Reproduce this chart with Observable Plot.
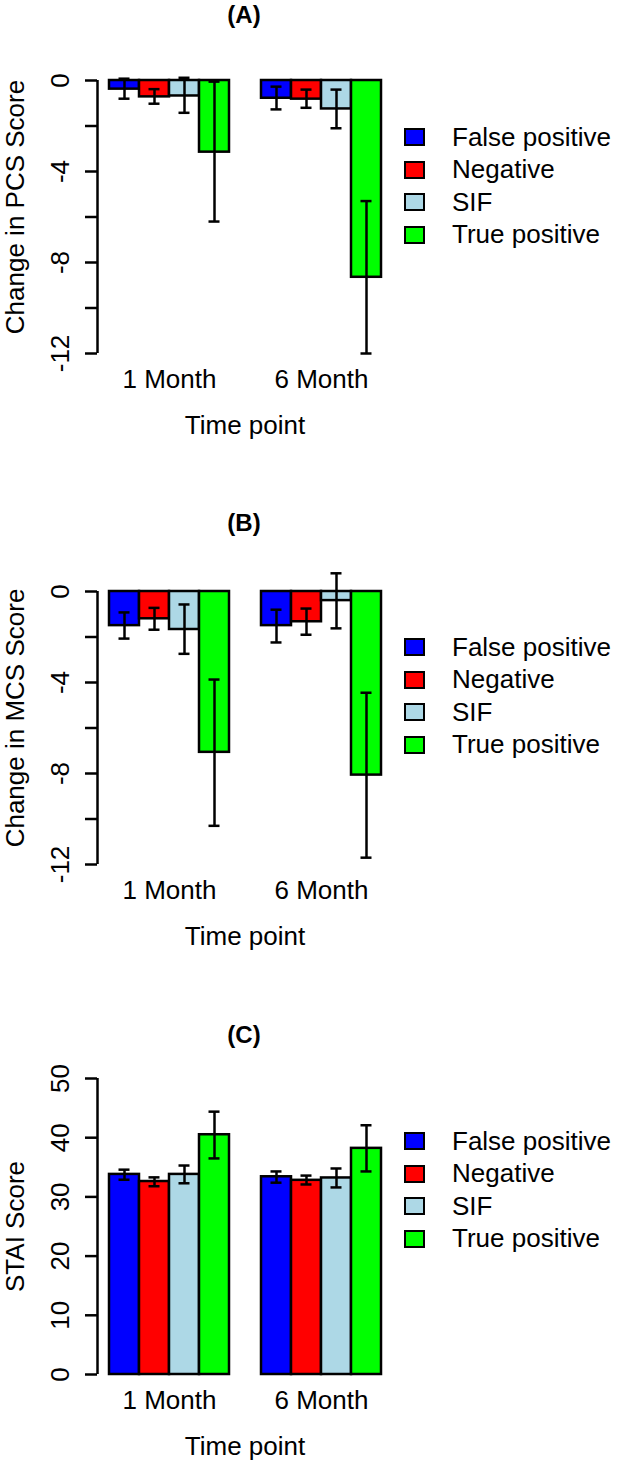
<!DOCTYPE html>
<html><head><meta charset="utf-8">
<script src="https://cdn.jsdelivr.net/npm/d3@7"></script>
<script src="https://cdn.jsdelivr.net/npm/@observablehq/plot@0.6"></script>
<style>
body{margin:0;background:#fff;font-family:"Liberation Sans",Arial,Helvetica,sans-serif;}
#root{position:relative;width:620px;height:1471px;overflow:hidden;background:#fff;}
.abs{position:absolute;}
.title{font-weight:bold;font-size:24px;text-align:center;width:200px;line-height:1;}
.leg-row{display:flex;align-items:center;height:32.5px;font-size:26px;color:#000;}
.sw{width:17px;height:14px;border:2px solid #000;margin-right:27px;flex:none;}
</style></head><body><div id="root"></div>
<script>
// ---- data ----
const categories = ["False positive", "Negative", "SIF", "True positive"];
const categoryColors = ["#0000ff", "#ff0000", "#add8e6", "#00ff00"];
const timePoints = ["1 Month", "6 Month"];
const xAxisLabel = "Time point";

// Panel A: Change in PCS Score (mean, lower, upper error bar) per time point
const pcsMean1 = [-0.38, -0.72, -0.68, -3.15];
const pcsLow1  = [-0.80, -1.02, -1.42, -6.20];
const pcsHigh1 = [0.08, -0.38, 0.12, -0.05];
const pcsMean6 = [-0.78, -0.82, -1.25, -8.65];
const pcsLow6  = [-1.27, -1.20, -2.10, -12.0];
const pcsHigh6 = [-0.27, -0.40, -0.40, -5.30];

// Panel B: Change in MCS Score
const mcsMean1 = [-1.50, -1.20, -1.67, -7.07];
const mcsLow1  = [-2.07, -1.68, -2.74, -10.3];
const mcsHigh1 = [-0.92, -0.72, -0.57, -3.87];
const mcsMean6 = [-1.50, -1.33, -0.40, -8.07];
const mcsLow6  = [-2.24, -1.90, -1.62, -11.7];
const mcsHigh6 = [-0.80, -0.75, 0.80, -4.45];

// Panel C: STAI Score
const staiMean1 = [33.8, 32.6, 33.8, 40.5];
const staiLow1  = [32.9, 31.8, 32.3, 36.5];
const staiHigh1 = [34.6, 33.3, 35.3, 44.4];
const staiMean6 = [33.4, 32.8, 33.2, 38.2];
const staiLow6  = [32.4, 32.1, 31.6, 34.3];
const staiHigh6 = [34.3, 33.6, 34.8, 42.1];

const changeTicks = [-12, -10, -8, -6, -4, -2, 0];
const changeTickLabels = [-12, -8, -4, 0];
const staiTicks = [0, 10, 20, 30, 40, 50];
const staiTickLabels = [0, 10, 20, 30, 40, 50];

function rows(means, lows, highs) {
  const out = [];
  timePoints.forEach((t, ti) => categories.forEach((c, ci) => {
    out.push({time: t, cat: c, mean: means[ti][ci], lo: lows[ti][ci], hi: highs[ti][ci]});
  }));
  return out;
}

const panels = [
  {title: "(A)", ylabel: "Change in PCS Score", data: rows([pcsMean1, pcsMean6], [pcsLow1, pcsLow6], [pcsHigh1, pcsHigh6]),
   ticks: changeTicks, tickLabels: changeTickLabels,
   top: 0, height: 470, marginTop: 80, plotH: 273, titleY: 15, legendY: 137, ylabelDy: -10},
  {title: "(B)", ylabel: "Change in MCS Score", data: rows([mcsMean1, mcsMean6], [mcsLow1, mcsLow6], [mcsHigh1, mcsHigh6]),
   ticks: changeTicks, tickLabels: changeTickLabels,
   top: 490, height: 480, marginTop: 101, plotH: 273, titleY: 523, legendY: 647, ylabelDy: -10},
  {title: "(C)", ylabel: "STAI Score", data: rows([staiMean1, staiMean6], [staiLow1, staiLow6], [staiHigh1, staiHigh6]),
   ticks: staiTicks, tickLabels: staiTickLabels,
   top: 980, height: 491, marginTop: 98, plotH: 296, titleY: 1035, legendY: 1141, ylabelDy: 0}
];

const root = document.getElementById("root");
const W = 620, axisX = 97, plotRight = 392, FONT = 26, LW = 2.5;

for (const p of panels) {
  const yDomain = d3.extent(p.ticks);
  const marginBottom = p.height - p.marginTop - p.plotH;
  const common = {
    width: W, height: p.height, marginTop: p.marginTop, marginBottom,
    marginLeft: axisX, marginRight: W - plotRight,
    style: {fontFamily: '"Liberation Sans", Arial, sans-serif', fontSize: FONT + "px", color: "#000", background: "transparent", overflow: "visible"}
  };

  // Bars and error bars, grouped by time point (facets)
  const bars = Plot.plot({
    ...common,
    fx: {domain: timePoints, paddingInner: 0.2, paddingOuter: 0.0653, axis: null, label: null},
    x: {domain: categories, padding: 0, axis: null},
    y: {domain: yDomain, axis: null},
    color: {domain: categories, range: categoryColors},
    marks: [
      Plot.barY(p.data, {fx: "time", x: "cat", y: "mean", fill: "cat", stroke: "#000", strokeWidth: LW}),
      Plot.ruleX(p.data, {fx: "time", x: "cat", y1: "lo", y2: "hi", stroke: "#000", strokeWidth: LW}),
      Plot.tickY(p.data, {fx: "time", x: "cat", y: "lo", stroke: "#000", strokeWidth: LW, insetLeft: 9.5, insetRight: 9.5}),
      Plot.tickY(p.data, {fx: "time", x: "cat", y: "hi", stroke: "#000", strokeWidth: LW, insetLeft: 9.5, insetRight: 9.5}),
      Plot.text(timePoints, {fx: d => d, text: d => d, frameAnchor: "bottom", dy: 34, fontSize: FONT, fill: "#000"})
    ]
  });
  bars.style.position = "absolute";
  bars.style.left = "0px";
  bars.style.top = p.top + "px";
  root.appendChild(bars);

  // Y axis (line, ticks, rotated labels, title) and x axis title
  const axis = Plot.plot({
    ...common,
    x: {domain: [0, 1], axis: null},
    y: {domain: yDomain, axis: null},
    marks: [
      Plot.ruleX([yDomain], {x: () => 0, y1: d => d[0], y2: d => d[1], stroke: "#000", strokeWidth: LW}),
      Plot.axisY(p.ticks, {tickSize: 12, tickFormat: () => "", strokeWidth: LW, label: null, anchor: "left"}),
      Plot.text(p.tickLabels, {y: d => d, text: d => String(d), frameAnchor: "left", textAnchor: "middle", dx: -37, rotate: -90, fontSize: FONT, fill: "#000"}),
      Plot.text([p.ylabel], {text: d => d, frameAnchor: "left", textAnchor: "middle", dx: -82, dy: p.ylabelDy, rotate: -90, fontSize: FONT, fill: "#000"}),
      Plot.text([xAxisLabel], {text: d => d, frameAnchor: "bottom", dy: 80, fontSize: FONT, fill: "#000"})
    ]
  });
  axis.style.position = "absolute";
  axis.style.left = "0px";
  axis.style.top = p.top + "px";
  root.appendChild(axis);

  // Panel title
  const t = document.createElement("div");
  t.className = "abs title";
  t.textContent = p.title;
  t.style.left = (244 - 100) + "px";
  t.style.top = (p.titleY - 12) + "px";
  root.appendChild(t);

  // Legend
  const leg = document.createElement("div");
  leg.className = "abs";
  leg.style.left = "404px";
  leg.style.top = (p.legendY - 16) + "px";
  categories.forEach((c, i) => {
    const r = document.createElement("div");
    r.className = "leg-row";
    const s = document.createElement("span");
    s.className = "sw";
    s.style.background = categoryColors[i];
    const lab = document.createElement("span");
    lab.textContent = c;
    r.appendChild(s); r.appendChild(lab);
    leg.appendChild(r);
  });
  root.appendChild(leg);
}
</script></body></html>
